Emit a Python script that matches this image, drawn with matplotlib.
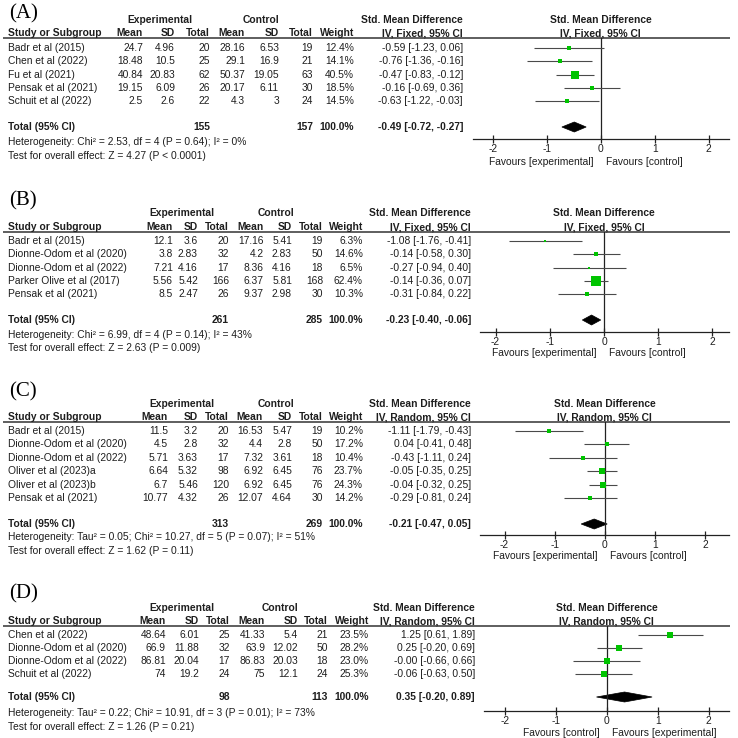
import matplotlib
matplotlib.use('Agg')
import matplotlib.pyplot as plt
from matplotlib.patches import Polygon
import numpy as np

plt.rcParams['font.family'] = ['Liberation Sans', 'DejaVu Sans']
plt.rcParams['axes.unicode_minus'] = False

# ---------------- data ----------------
# (A)
a_studies = ["Badr et al (2015)", "Chen et al (2022)", "Fu et al (2021)", "Pensak et al (2021)", "Schuit et al (2022)"]
a_exp_mean = [24.7, 18.48, 40.84, 19.15, 2.5]
a_exp_sd = [4.96, 10.5, 20.83, 6.09, 2.6]
a_exp_n = [20, 25, 62, 26, 22]
a_ctl_mean = [28.16, 29.1, 50.37, 20.17, 4.3]
a_ctl_sd = [6.53, 16.9, 19.05, 6.11, 3]
a_ctl_n = [19, 21, 63, 30, 24]
a_weight = [12.4, 14.1, 40.5, 18.5, 14.5]
a_smd = [-0.59, -0.76, -0.47, -0.16, -0.63]
a_lo = [-1.23, -1.36, -0.83, -0.69, -1.22]
a_hi = [0.06, -0.16, -0.12, 0.36, -0.03]
a_total = [155, 157, -0.49, -0.72, -0.27]
a_het = "Heterogeneity: Chi\u00b2 = 2.53, df = 4 (P = 0.64); I\u00b2 = 0%"
a_test = "Test for overall effect: Z = 4.27 (P < 0.0001)"

# (B)
b_studies = ["Badr et al (2015)", "Dionne-Odom et al (2020)", "Dionne-Odom et al (2022)",
             "Parker Olive et al (2017)", "Pensak et al (2021)"]
b_exp_mean = [12.1, 3.8, 7.21, 5.56, 8.5]
b_exp_sd = [3.6, 2.83, 4.16, 5.42, 2.47]
b_exp_n = [20, 32, 17, 166, 26]
b_ctl_mean = [17.16, 4.2, 8.36, 6.37, 9.37]
b_ctl_sd = [5.41, 2.83, 4.16, 5.81, 2.98]
b_ctl_n = [19, 50, 18, 168, 30]
b_weight = [6.3, 14.6, 6.5, 62.4, 10.3]
b_smd = [-1.08, -0.14, -0.27, -0.14, -0.31]
b_lo = [-1.76, -0.58, -0.94, -0.36, -0.84]
b_hi = [-0.41, 0.30, 0.40, 0.07, 0.22]
b_total = [261, 285, -0.23, -0.40, -0.06]
b_het = "Heterogeneity: Chi\u00b2 = 6.99, df = 4 (P = 0.14); I\u00b2 = 43%"
b_test = "Test for overall effect: Z = 2.63 (P = 0.009)"

# (C)
c_studies = ["Badr et al (2015)", "Dionne-Odom et al (2020)", "Dionne-Odom et al (2022)",
             "Oliver et al (2023)a", "Oliver et al (2023)b", "Pensak et al (2021)"]
c_exp_mean = [11.5, 4.5, 5.71, 6.64, 6.7, 10.77]
c_exp_sd = [3.2, 2.8, 3.63, 5.32, 5.46, 4.32]
c_exp_n = [20, 32, 17, 98, 120, 26]
c_ctl_mean = [16.53, 4.4, 7.32, 6.92, 6.92, 12.07]
c_ctl_sd = [5.47, 2.8, 3.61, 6.45, 6.45, 4.64]
c_ctl_n = [19, 50, 18, 76, 76, 30]
c_weight = [10.2, 17.2, 10.4, 23.7, 24.3, 14.2]
c_smd = [-1.11, 0.04, -0.43, -0.05, -0.04, -0.29]
c_lo = [-1.79, -0.41, -1.11, -0.35, -0.32, -0.81]
c_hi = [-0.43, 0.48, 0.24, 0.25, 0.25, 0.24]
c_total = [313, 269, -0.21, -0.47, 0.05]
c_het = "Heterogeneity: Tau\u00b2 = 0.05; Chi\u00b2 = 10.27, df = 5 (P = 0.07); I\u00b2 = 51%"
c_test = "Test for overall effect: Z = 1.62 (P = 0.11)"

# (D)
d_studies = ["Chen et al (2022)", "Dionne-Odom et al (2020)", "Dionne-Odom et al (2022)", "Schuit et al (2022)"]
d_exp_mean = [48.64, 66.9, 86.81, 74]
d_exp_sd = [6.01, 11.88, 20.04, 19.2]
d_exp_n = [25, 32, 17, 24]
d_ctl_mean = [41.33, 63.9, 86.83, 75]
d_ctl_sd = [5.4, 12.02, 20.03, 12.1]
d_ctl_n = [21, 50, 18, 24]
d_weight = [23.5, 28.2, 23.0, 25.3]
d_smd = [1.25, 0.25, -0.0, -0.06]
d_lo = [0.61, -0.20, -0.66, -0.63]
d_hi = [1.89, 0.69, 0.66, 0.50]
d_total = [98, 113, 0.35, -0.20, 0.89]
d_het = "Heterogeneity: Tau\u00b2 = 0.22; Chi\u00b2 = 10.91, df = 3 (P = 0.01); I\u00b2 = 73%"
d_test = "Test for overall effect: Z = 1.26 (P = 0.21)"

ticks = [-2, -1, 0, 1, 2]

# ---------------- layout (pixels) ----------------
panels = [
    dict(tag="(A)", method="IV, Fixed, 95% CI", fav=("Favours [experimental]", "Favours [control]"),
         data=(a_studies, a_exp_mean, a_exp_sd, a_exp_n, a_ctl_mean, a_ctl_sd, a_ctl_n, a_weight, a_smd, a_lo, a_hi, a_total, a_het, a_test),
         label_y=14, hdr_y=20, col_y=33, sep_y=37.5, row0=48, step=13.3, tot_y=127, het_y=142, test_y=156,
         cols=[143, 175, 210, 245, 279, 313, 354], exp_c=160, ctl_c=261, smd_r=463,
         zero=600.7, unit=53.9, ax_l=473, ax_r=729, axis_y=139.3, fav_y=162),
    dict(tag="(B)", method="IV, Fixed, 95% CI", fav=("Favours [experimental]", "Favours [control]"),
         data=(b_studies, b_exp_mean, b_exp_sd, b_exp_n, b_ctl_mean, b_ctl_sd, b_ctl_n, b_weight, b_smd, b_lo, b_hi, b_total, b_het, b_test),
         label_y=201, hdr_y=213, col_y=227, sep_y=232, row0=241, step=13.3, tot_y=320, het_y=335, test_y=348,
         cols=[173, 198, 229, 264, 292, 323, 363], exp_c=182, ctl_c=276, smd_r=471,
         zero=604, unit=54.2, ax_l=480, ax_r=729, axis_y=331.7, fav_y=353),
    dict(tag="(C)", method="IV, Random, 95% CI", fav=("Favours [experimental]", "Favours [control]"),
         data=(c_studies, c_exp_mean, c_exp_sd, c_exp_n, c_ctl_mean, c_ctl_sd, c_ctl_n, c_weight, c_smd, c_lo, c_hi, c_total, c_het, c_test),
         label_y=392, hdr_y=404, col_y=417, sep_y=422, row0=431, step=13.4, tot_y=524, het_y=537, test_y=551,
         cols=[168, 198, 229, 263, 292, 323, 363], exp_c=182, ctl_c=276, smd_r=471,
         zero=604.7, unit=50.1, ax_l=480, ax_r=729, axis_y=535, fav_y=556),
    dict(tag="(D)", method="IV, Random, 95% CI", fav=("Favours [control]", "Favours [experimental]"),
         data=(d_studies, d_exp_mean, d_exp_sd, d_exp_n, d_ctl_mean, d_ctl_sd, d_ctl_n, d_weight, d_smd, d_lo, d_hi, d_total, d_het, d_test),
         label_y=594, hdr_y=608, col_y=621, sep_y=626, row0=635, step=13.1, tot_y=697, het_y=713, test_y=727,
         cols=[166, 199, 230, 265, 298, 328, 369], exp_c=182, ctl_c=280, smd_r=475,
         zero=606.7, unit=51.0, ax_l=484, ax_r=729, axis_y=710.7, fav_y=733),
]

W = H = 738
fs = 7.4
txt_col = "#1e1e1e"
green = "#00c400"
ci_col = "#4a4a4a"

fig = plt.figure(figsize=(W / 100, H / 100), dpi=100)
ax0 = fig.add_axes([0, 0, 1, 1])
ax0.set_xlim(0, W)
ax0.set_ylim(H, 0)
ax0.axis('off')


def put(x, y, s, ha='left', bold=False, size=fs, **kw):
    ax0.text(x, y, s, ha=ha, va='center', fontsize=size, color=txt_col,
             fontweight='bold' if bold else 'normal', **kw)


def fmt_ci(e, lo, hi):
    return "{:.2f} [{:.2f}, {:.2f}]".format(e, lo, hi)


for p in panels:
    (studies, em, esd, en, cm, csd, cn, wt, smd, lo, hi, tot, het, test) = p['data']
    cols = p['cols']

    # panel tag
    ax0.text(9, p['label_y'], p['tag'], ha='left', va='center', fontsize=15,
             family=['Liberation Serif', 'DejaVu Serif'], color='black')

    # header rows
    put(p['exp_c'], p['hdr_y'], "Experimental", ha='center', bold=True)
    put(p['ctl_c'], p['hdr_y'], "Control", ha='center', bold=True)
    put(p['smd_r'], p['hdr_y'], "Std. Mean Difference", ha='right', bold=True)
    put(p['zero'], p['hdr_y'], "Std. Mean Difference", ha='center', bold=True)
    put(8, p['col_y'], "Study or Subgroup", bold=True)
    for x, h in zip(cols, ["Mean", "SD", "Total", "Mean", "SD", "Total", "Weight"]):
        put(x, p['col_y'], h, ha='right', bold=True)
    put(p['smd_r'], p['col_y'], p['method'], ha='right', bold=True)
    put(p['zero'], p['col_y'], p['method'], ha='center', bold=True)
    ax0.plot([3, 730], [p['sep_y'], p['sep_y']], color='#333333', lw=1.1, solid_capstyle='butt')

    # study rows
    ys = [p['row0'] + i * p['step'] for i in range(len(studies))]
    for i, y in enumerate(ys):
        put(8, y, studies[i])
        vals = [em[i], esd[i], en[i], cm[i], csd[i], cn[i], "{:.1f}%".format(wt[i])]
        for x, v in zip(cols, vals):
            put(x, y, str(v), ha='right')
        put(p['smd_r'], y, fmt_ci(smd[i], lo[i], hi[i]), ha='right')

    # totals
    put(8, p['tot_y'], "Total (95% CI)", bold=True)
    put(cols[2], p['tot_y'], str(tot[0]), ha='right', bold=True)
    put(cols[5], p['tot_y'], str(tot[1]), ha='right', bold=True)
    put(cols[6], p['tot_y'], "100.0%", ha='right', bold=True)
    put(p['smd_r'], p['tot_y'], fmt_ci(tot[2], tot[3], tot[4]), ha='right', bold=True)
    put(8, p['het_y'], het)
    put(8, p['test_y'], test)

    # favours labels
    put(p['zero'] - 7, p['fav_y'], p['fav'][0], ha='right')
    put(p['zero'] + 5, p['fav_y'], p['fav'][1], ha='left')

    # forest axes
    fa = fig.add_axes([p['ax_l'] / W, 1 - p['axis_y'] / H,
                       (p['ax_r'] - p['ax_l']) / W, (p['axis_y'] - p['sep_y']) / H])
    fa.patch.set_alpha(0)
    fa.set_xlim((p['ax_l'] - p['zero']) / p['unit'], (p['ax_r'] - p['zero']) / p['unit'])
    fa.set_ylim(p['axis_y'], p['sep_y'])
    for s in ['top', 'left', 'right']:
        fa.spines[s].set_visible(False)
    fa.spines['bottom'].set_color('#222222')
    fa.spines['bottom'].set_linewidth(0.9)
    fa.set_yticks([])
    fa.set_xticks(ticks)
    fa.set_xticklabels([str(t) for t in ticks])
    fa.tick_params(axis='x', direction='inout', length=6, width=0.9, color='#222222',
                   labelsize=fs, labelcolor=txt_col, pad=0.5)
    fa.axvline(0, color='#222222', lw=0.9)

    for i, y in enumerate(ys):
        fa.plot([lo[i], hi[i]], [y, y], color=ci_col, lw=0.8, solid_capstyle='butt')
        side_px = max(2.0, 1.15 * np.sqrt(wt[i]))
        fa.plot(smd[i], y, marker='s', ms=side_px * 0.72, color=green, mec=green, mew=0)

    # pooled diamond
    ty = p['tot_y']
    dia = Polygon([[tot[3], ty], [tot[2], ty - 5], [tot[4], ty], [tot[2], ty + 5]],
                  closed=True, facecolor='black', edgecolor='black', lw=0.5)
    fa.add_patch(dia)

fig.savefig("out.png", dpi=100)
